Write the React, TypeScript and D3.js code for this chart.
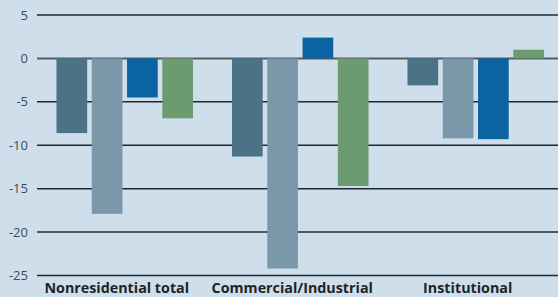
import React from "react";
import * as d3 from "d3";

const categories = ["Nonresidential total", "Commercial/Industrial", "Institutional"];
const seriesNames = ["s1", "s2", "s3", "s4"];
const series1 = [-8.6, -11.3, -3.1];
const series2 = [-17.9, -24.2, -9.2];
const series3 = [-4.5, 2.4, -9.3];
const series4 = [-6.9, -14.7, 1.0];
const tickValues = [5, 0, -5, -10, -15, -20, -25];
const colors = ["#4b7287", "#7a98aa", "#0b63a1", "#6c9b6f"];

const W = 558;
const H = 297;

export default function App() {
  const allSeries = [series1, series2, series3, series4];
  const y = d3.scaleLinear().domain([-25, 5]).range([275.5, 15]);
  const x0 = d3.scaleBand().domain(categories).range([37, 563.5]).paddingInner(0.222).paddingOuter(0.111);
  const x1 = d3.scaleBand().domain(seriesNames).range([0, x0.bandwidth()]).paddingInner(0.13);
  return (
    <svg
      width={W}
      height={H}
      style={{ position: "fixed", left: 0, top: 0, display: "block", background: "#cedfeb" }}
    >
      <rect x={0} y={0} width={W} height={H} fill="#cedfeb" />
      {tickValues.map((t) => (
        <g key={t}>
          <line
            x1={37}
            x2={W}
            y1={y(t)}
            y2={y(t)}
            stroke={t === 0 ? "#565b60" : "#1c2838"}
            strokeWidth={t === 0 ? 2 : 1.5}
          />
          <text
            x={28}
            y={y(t)}
            dy="0.35em"
            textAnchor="end"
            fontFamily="'Open Sans', sans-serif"
            fontSize={13}
            fill="#3f4a55"
          >
            {t}
          </text>
        </g>
      ))}
      {categories.map((c, ci) => (
        <g key={c} transform={`translate(${x0(c)},0)`}>
          {seriesNames.map((s, si) => {
            const v = allSeries[si][ci];
            return (
              <rect
                key={s}
                x={x1(s)}
                y={Math.min(y(v), y(0))}
                width={x1.bandwidth()}
                height={Math.abs(y(v) - y(0))}
                fill={colors[si]}
              />
            );
          })}
          <text
            x={x0.bandwidth() / 2 - 8}
            y={293}
            textAnchor="middle"
            fontFamily="'Open Sans', sans-serif"
            fontWeight="bold"
            fontSize={14.3}
            fill="#1f2326"
          >
            {c}
          </text>
        </g>
      ))}
    </svg>
  );
}
